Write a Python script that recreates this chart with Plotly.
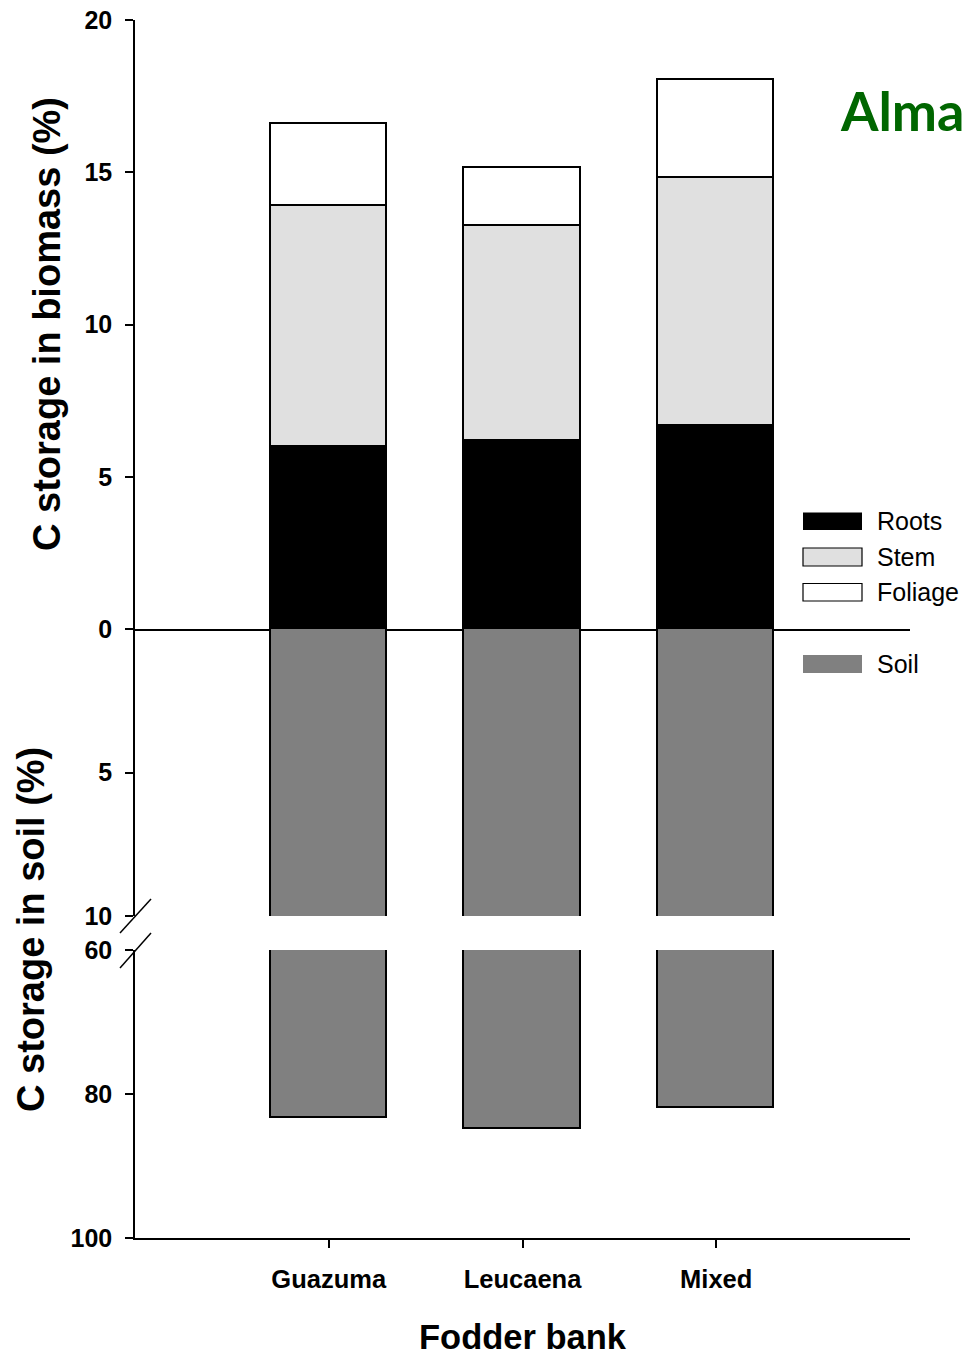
import plotly.graph_objects as go

# ---- data ----
categories = ["Guazuma", "Leucaena", "Mixed"]
roots = [5.98, 6.17, 6.67]
stem = [7.92, 7.06, 8.14]
foliage = [2.68, 1.91, 3.22]
soil = [83.3, 84.9, 81.9]

biomass_ticks = [0, 5, 10, 15, 20]
soil_upper_ticks = [5, 10]
soil_lower_ticks = [60, 80, 100]

series_names = ["Roots", "Stem", "Foliage", "Soil"]
series_colors = ["#000000", "#e0e0e0", "#ffffff", "#808080"]

# ---- layout geometry (pixels) ----
W, H = 966, 1356
L, R, T, B = 135, 56, 20, 118
PW = W - L - R
PH = H - T - B


def px(x):
    return (x - L) / PW


def py(y):
    return (H - B - y) / PH


FONT = "Liberation Sans, Arial, sans-serif"
line_style = dict(color="#000000", width=1.7)

fig = go.Figure()

for name, vals, col in zip(series_names[:3], [roots, stem, foliage], series_colors[:3]):
    fig.add_trace(go.Bar(x=categories, y=vals, name=name, width=0.6,
                         marker=dict(color=col, line=line_style),
                         xaxis="x", yaxis="y", showlegend=False))

fig.add_trace(go.Bar(x=categories, y=soil, name="Soil", width=0.6,
                     marker=dict(color=series_colors[3], line=line_style),
                     xaxis="x2", yaxis="y2", showlegend=False))
fig.add_trace(go.Bar(x=categories, y=soil, name="Soil", width=0.6,
                     marker=dict(color=series_colors[3], line=line_style),
                     xaxis="x3", yaxis="y3", showlegend=False))

tickfont = dict(family=FONT, size=25, color="#000", weight="bold")

common_x = dict(type="category", categoryorder="array", categoryarray=categories,
                range=[-1, 3], showgrid=False, zeroline=False, automargin=False)

common_y = dict(showline=True, linecolor="#000", linewidth=1.5, showgrid=False, zeroline=False,
                ticks="outside", ticklen=8, tickwidth=1.5, tickcolor="#000",
                tickfont=tickfont, ticklabelstandoff=8, automargin=False)

fig.update_layout(
    width=W, height=H,
    margin=dict(l=L, r=R, t=T, b=B, pad=0, autoexpand=False),
    paper_bgcolor="white", plot_bgcolor="white",
    barmode="stack", bargap=0,
    showlegend=False,
    xaxis=dict(**common_x, anchor="y", showline=True, linecolor="#000", linewidth=1.5,
               showticklabels=False, ticks=""),
    xaxis2=dict(**common_x, anchor="y2", showline=False, showticklabels=False, ticks=""),
    xaxis3=dict(**common_x, anchor="y3", showline=True, linecolor="#000", linewidth=1.5,
                ticks="outside", ticklen=8, tickwidth=1.5, tickcolor="#000",
                tickfont=dict(family=FONT, size=25.5, color="#000", weight="bold"),
                ticklabelstandoff=10),
    yaxis=dict(**common_y, domain=[py(629), 1], range=[0, 20], tickvals=biomass_ticks, anchor="x"),
    yaxis2=dict(**common_y, domain=[py(916), py(629)], range=[10, 0], tickvals=soil_upper_ticks,
                anchor="x2"),
    yaxis3=dict(**common_y, domain=[0, py(950)], range=[100, 60], tickvals=soil_lower_ticks,
                anchor="x3"),
)

shapes = []
# axis break marks
for (x0, y0, x1, y1) in [(120, 933, 151, 899), (120, 968, 151, 933)]:
    shapes.append(dict(type="line", xref="paper", yref="paper",
                       x0=px(x0), y0=py(y0), x1=px(x1), y1=py(y1),
                       line=dict(color="#000", width=1.5)))

# legend boxes
legend_rows = [(512.5, 530), (548, 566), (583.5, 601), (655, 673)]
for i, (name, col) in enumerate(zip(series_names, series_colors)):
    y0, y1 = legend_rows[i]
    border = dict(color="#000", width=1.2) if name in ("Stem", "Foliage") else dict(width=0)
    shapes.append(dict(type="rect", xref="paper", yref="paper",
                       x0=px(803), x1=px(862), y0=py(y1), y1=py(y0),
                       fillcolor=col, line=border))

annotations = []
for i, name in enumerate(series_names):
    y0, y1 = legend_rows[i]
    annotations.append(dict(xref="paper", yref="paper", x=px(875), y=py((y0 + y1) / 2),
                            text=name, showarrow=False, xanchor="left", yanchor="middle",
                            font=dict(family=FONT, size=25, color="#000")))

annotations += [
    dict(xref="paper", yref="paper", x=px(47), y=py(324), text="C storage in biomass (%)",
         textangle=-90, showarrow=False, xanchor="center", yanchor="middle",
         font=dict(family=FONT, size=38, color="#000", weight="bold")),
    dict(xref="paper", yref="paper", x=px(31), y=py(930), text="C storage in soil (%)",
         textangle=-90, showarrow=False, xanchor="center", yanchor="middle",
         font=dict(family=FONT, size=38, color="#000", weight="bold")),
    dict(xref="paper", yref="paper", x=px(523), y=py(1337), text="Fodder bank",
         showarrow=False, xanchor="center", yanchor="middle",
         font=dict(family=FONT, size=34.5, color="#000", weight="bold")),
    dict(xref="paper", yref="paper", x=px(838), y=py(110), text="Alma",
         showarrow=False, xanchor="left", yanchor="middle",
         font=dict(family="Lato", size=54, color="#006600", weight="bold")),
]

fig.update_layout(shapes=shapes, annotations=annotations)

fig.write_html("out.html", config={"displayModeBar": False},
               post_script="document.body.style.margin='0';document.body.style.overflow='hidden';")
